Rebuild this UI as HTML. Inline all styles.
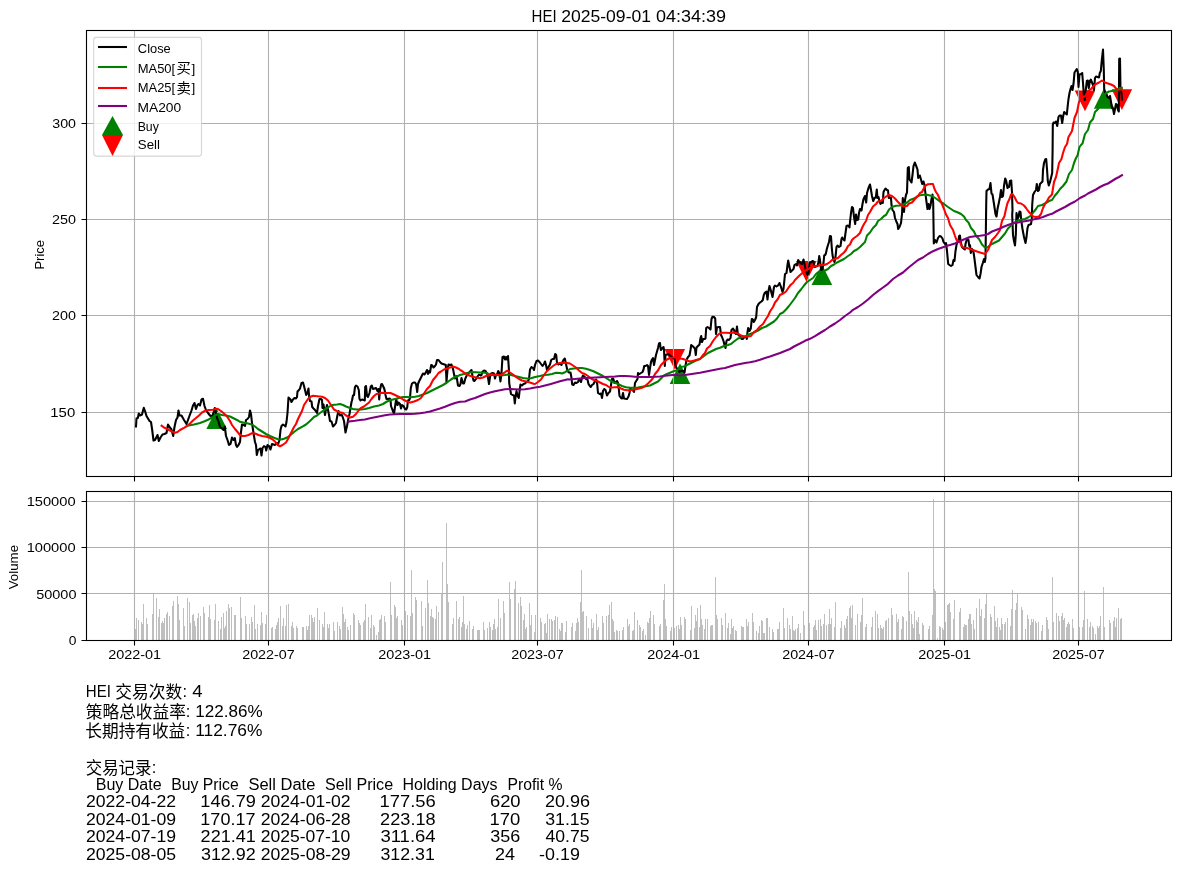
<!DOCTYPE html>
<html lang="zh-CN">
<head>
<meta charset="utf-8">
<title>HEI 2025-09-01 04:34:39</title>
<style>
html,body{margin:0;padding:0;background:#fff;}
body{width:1181px;height:872px;overflow:hidden;}
svg{display:block;}
text{white-space:pre;}
</style>
</head>
<body>
<svg width="1181" height="872" viewBox="0 0 1181 872" font-family='"Liberation Sans", "Noto Sans CJK SC", sans-serif' fill="#000">
<rect width="1181" height="872" fill="#fff"/>
<g id="price">
<clipPath id="c1"><rect x="86.5" y="30.5" width="1085.0" height="446.0"/></clipPath>
<g clip-path="url(#c1)">
<path d="M216.7 408.4L227.0 429.0L206.4 429.0Z" fill="#008000"/>
<path d="M680.0 363.3L690.3 383.9L669.7 383.9Z" fill="#008000"/>
<path d="M821.9 264.5L832.2 285.1L811.6 285.1Z" fill="#008000"/>
<path d="M1104.2 88.1L1114.5 108.7L1093.9 108.7Z" fill="#008000"/>
<path d="M674.8 369.7L685.1 349.1L664.5 349.1Z" fill="#ff0000"/>
<path d="M806.4 281.7L816.7 261.1L796.1 261.1Z" fill="#ff0000"/>
<path d="M1085.0 111.2L1095.3 90.6L1074.7 90.6Z" fill="#ff0000"/>
<path d="M1121.9 109.9L1132.2 89.3L1111.6 89.3Z" fill="#ff0000"/>
<path d="M134.5 30.5V476.5M268.5 30.5V476.5M404.5 30.5V476.5M537.5 30.5V476.5M673.5 30.5V476.5M808.5 30.5V476.5M944.5 30.5V476.5M1078.5 30.5V476.5M86.5 412.5H1171.5M86.5 315.5H1171.5M86.5 219.5H1171.5M86.5 123.5H1171.5" stroke="#b0b0b0" stroke-width="1.1" fill="none"/>
<path d="M136.0 426.5L136.5 418.5L137.8 418.0L138.8 413.5L140.0 415.5L142.0 414.5L143.8 407.8L145.0 411.0L146.5 416.0L148.0 418.5L149.5 421.0L151.0 422.0L152.2 430.0L153.5 440.5L155.0 440.0L157.5 435.0L158.8 441.0L160.5 437.5L162.5 434.5L164.5 434.0L166.5 433.0L168.0 424.5L169.5 427.0L171.5 429.5L173.2 436.0L174.5 427.0L176.0 420.0L177.5 417.5L178.5 410.5L179.5 415.5L181.5 415.5L184.0 420.0L186.5 424.0L188.0 420.0L190.0 414.5L191.5 410.5L193.0 405.5L194.5 403.0L196.0 409.0L197.5 405.0L198.5 404.0L200.0 405.5L201.5 399.5L203.0 398.8L204.5 406.0L206.0 410.0L208.0 413.0L210.0 415.5L212.0 416.5L213.5 413.0L214.8 408.0L216.0 413.0L217.0 418.0L218.5 421.5L220.0 427.0L221.5 428.0L223.5 430.0L224.8 426.5L226.0 436.0L227.5 440.0L229.0 445.0L230.5 444.0L232.0 437.5L233.5 440.0L234.8 438.0L236.0 445.0L237.0 446.8L238.5 445.0L240.0 442.0L241.0 432.0L242.0 424.5L243.5 425.0L245.0 426.0L246.0 420.0L247.5 419.0L249.0 417.0L250.0 410.5L251.0 414.0L252.0 423.0L253.5 433.0L255.0 442.0L256.0 445.0L256.8 455.0L258.0 450.0L259.5 449.0L260.5 448.5L261.5 455.5L262.5 448.0L264.0 446.0L265.5 447.0L266.2 450.5L267.5 445.0L269.0 446.0L270.5 449.5L272.0 444.0L273.5 444.5L275.0 445.0L276.5 443.0L278.0 444.5L279.5 440.0L280.5 430.0L281.5 426.0L283.0 424.5L284.5 425.5L285.5 426.5L286.5 422.0L287.5 413.0L288.5 397.5L289.5 398.5L290.5 399.5L291.5 402.0L293.0 399.5L294.5 398.0L296.0 398.5L297.0 397.0L297.5 391.5L299.0 390.0L300.0 388.5L301.5 383.0L303.0 382.5L304.0 386.0L305.0 390.0L306.2 395.0L307.2 393.5L308.5 388.5L309.2 397.0L310.0 401.0L311.5 401.5L312.2 407.0L313.5 408.5L315.0 410.0L317.0 413.0L318.0 406.0L319.5 399.0L321.0 399.0L322.0 400.0L322.5 408.0L323.5 404.5L325.0 415.0L326.0 409.0L327.0 405.0L328.0 410.0L329.0 415.0L330.0 421.0L331.5 421.5L333.0 426.5L334.5 425.0L336.0 423.0L337.5 415.0L338.5 411.0L340.0 415.5L341.5 414.5L342.5 416.5L344.0 421.0L345.5 432.5L347.0 426.0L348.5 418.0L349.5 414.0L350.5 408.0L351.5 402.0L352.0 400.5L353.0 395.5L354.0 395.0L355.0 387.0L356.0 385.5L357.5 386.5L358.8 390.0L359.5 399.0L360.5 400.5L362.0 399.5L363.5 400.0L364.8 400.5L365.2 387.0L366.0 386.0L367.0 396.0L368.0 397.0L369.5 393.0L370.8 386.5L371.8 385.5L373.0 389.0L374.5 388.5L376.0 388.0L377.5 391.0L378.5 389.0L379.2 399.5L380.0 390.0L381.2 384.5L382.0 384.0L383.5 387.0L384.5 389.5L385.5 395.0L386.5 399.0L388.0 399.0L389.5 398.5L390.5 399.5L391.0 406.0L392.5 410.0L394.0 413.5L395.0 407.0L396.2 399.0L397.5 405.0L398.5 402.5L400.0 404.0L401.0 408.5L402.0 405.0L403.5 406.0L405.0 409.0L406.2 409.5L407.2 407.5L408.0 400.5L409.2 400.0L410.0 398.0L410.8 388.0L412.0 383.5L413.5 382.5L415.0 382.5L416.2 384.5L417.2 392.0L418.0 384.0L419.0 381.5L420.5 378.5L422.0 375.5L423.0 373.5L424.5 374.5L426.0 372.0L427.0 370.0L428.0 374.0L429.0 371.0L430.0 372.5L431.2 365.0L432.2 365.5L433.5 367.5L435.0 366.0L436.0 364.5L437.0 360.0L438.5 360.0L440.0 362.0L441.5 363.5L443.0 364.0L444.5 364.5L445.8 365.0L446.5 382.0L447.5 370.0L448.5 364.5L450.0 365.0L451.5 364.5L453.0 369.0L454.0 374.0L455.0 378.5L456.5 376.0L458.0 385.5L459.5 386.0L460.5 384.0L461.5 378.0L463.0 383.5L464.0 383.5L465.5 378.0L467.0 375.0L468.5 373.5L470.0 371.5L471.5 370.0L472.5 376.0L473.5 380.5L474.5 381.0L476.0 379.0L477.5 376.5L479.0 374.5L480.5 375.5L481.5 375.0L482.5 371.5L484.0 370.5L485.5 371.0L487.0 373.5L488.0 377.5L489.0 384.0L490.0 377.0L491.2 373.5L492.5 373.0L494.0 373.5L495.0 378.5L496.0 375.0L497.2 374.0L498.2 371.0L499.2 372.5L500.5 381.5L501.5 373.0L502.5 357.0L504.0 356.5L505.0 359.5L506.0 357.0L507.0 359.5L508.0 356.0L508.8 368.0L509.2 383.0L510.0 388.0L511.0 394.0L512.5 395.0L514.0 395.5L514.8 403.5L515.5 397.0L516.5 391.0L517.5 396.0L518.8 398.0L519.8 389.0L520.5 384.5L522.0 385.5L523.5 384.0L525.0 383.5L526.5 382.0L528.0 381.0L529.0 379.0L530.0 369.5L531.5 367.0L533.0 368.0L534.0 370.0L535.0 365.0L536.5 361.0L538.0 360.5L539.5 362.0L541.0 364.0L542.5 366.0L544.0 364.0L545.0 361.5L546.0 365.0L547.0 370.0L548.5 367.0L550.0 364.5L551.2 360.0L552.5 359.0L554.0 359.0L555.2 354.0L556.2 355.0L557.0 363.0L558.5 364.5L560.0 363.5L561.5 365.0L562.5 362.0L563.5 360.0L564.8 358.5L566.0 364.0L567.5 371.0L569.0 372.5L570.5 372.5L571.5 378.0L572.2 384.5L573.5 385.0L575.0 382.5L576.5 383.0L578.0 382.0L579.0 379.5L580.0 380.0L581.0 382.0L582.0 378.0L583.0 375.5L584.5 376.5L586.0 379.0L587.5 379.5L588.5 384.0L589.5 385.5L590.8 387.0L592.0 385.0L593.5 384.0L595.0 381.0L596.2 379.5L597.2 384.0L598.0 393.0L599.5 394.0L601.0 393.5L602.0 398.0L603.0 391.0L604.2 389.0L605.5 390.0L607.0 395.5L608.5 393.0L610.0 391.5L611.0 385.0L612.0 379.0L613.2 378.5L614.5 383.0L615.8 382.0L617.0 381.0L618.0 383.0L618.8 389.0L619.5 396.0L621.0 398.0L622.0 398.5L623.0 393.0L624.0 398.5L625.5 398.8L627.0 399.0L628.5 396.5L629.5 393.0L630.0 389.0L631.2 389.0L632.5 390.0L634.0 392.0L635.0 383.0L636.5 380.5L637.5 379.0L638.0 373.0L639.5 374.0L641.0 373.0L642.5 372.0L643.5 369.5L644.2 366.0L645.5 366.0L647.0 365.0L648.0 366.0L649.0 375.0L650.0 368.0L651.0 362.0L652.0 359.5L653.0 358.0L654.0 365.0L655.0 360.0L656.0 355.0L657.0 351.5L658.0 348.0L659.0 343.5L660.0 343.0L660.8 350.0L662.0 348.5L663.5 347.0L664.0 350.0L664.8 366.0L665.5 355.0L667.0 354.5L668.5 354.0L670.0 355.5L671.5 356.5L673.0 358.0L674.5 359.0L675.5 365.0L676.5 368.0L678.0 369.0L679.5 372.0L681.0 371.0L683.0 371.0L684.5 372.5L685.5 366.0L686.5 360.0L688.0 357.0L689.5 355.5L690.5 350.0L691.2 345.0L692.5 346.0L694.0 347.5L695.0 349.0L695.8 355.0L696.5 347.5L698.0 346.0L699.5 344.5L700.5 338.0L701.2 336.0L702.0 342.0L703.2 339.0L704.5 339.0L705.5 338.5L706.2 328.0L707.5 327.0L709.0 328.0L710.5 329.5L711.5 319.0L712.5 316.8L714.0 317.0L715.2 318.5L716.0 334.0L717.0 327.5L718.5 327.0L720.0 327.0L721.0 335.0L722.0 337.0L723.5 341.0L724.5 345.0L725.5 348.0L726.5 341.0L727.5 339.5L729.0 340.0L730.5 338.0L731.5 330.0L733.0 328.5L734.0 330.0L735.0 333.0L736.0 334.0L737.0 326.5L737.8 334.0L739.0 335.5L740.5 336.0L741.5 339.0L743.0 339.0L744.5 337.0L746.0 336.5L746.8 339.0L747.5 332.0L748.2 328.0L749.5 331.0L750.8 328.5L751.8 319.0L752.8 319.5L753.8 322.0L755.0 320.0L756.2 317.0L757.0 307.0L758.5 304.0L760.0 302.5L761.5 301.5L762.8 300.0L763.8 295.0L765.0 292.5L766.5 291.5L767.5 299.5L768.5 291.0L769.5 286.0L771.0 291.0L772.5 297.0L774.0 287.0L775.0 285.5L776.5 286.5L778.0 285.5L779.5 283.0L781.0 287.0L782.5 292.0L783.5 289.0L784.5 279.0L785.0 274.0L786.5 273.0L787.5 265.0L788.2 260.5L789.5 267.0L790.5 272.0L792.0 270.5L793.5 269.0L794.5 265.0L796.0 264.0L797.0 265.5L798.2 260.0L799.5 262.0L801.0 263.5L802.0 264.0L803.5 259.5L804.5 264.0L806.0 271.0L807.5 275.0L808.5 273.0L809.5 263.0L811.0 262.5L812.5 261.0L813.5 261.5L814.5 267.0L816.0 266.5L817.5 266.0L818.5 262.0L819.2 256.0L820.0 260.0L820.8 267.0L821.5 272.0L822.5 269.0L823.5 263.0L824.2 255.5L825.2 255.0L826.0 253.0L826.8 249.0L828.0 245.0L829.0 242.0L830.0 236.0L831.0 236.5L831.8 248.0L832.5 255.0L833.5 260.0L834.5 262.0L835.5 257.0L836.5 247.0L837.5 245.5L839.0 247.0L840.5 246.0L841.5 239.0L842.2 237.5L843.5 239.5L844.5 240.5L845.5 233.0L846.5 226.0L848.0 225.5L849.5 227.5L850.0 222.0L851.0 213.0L852.0 207.0L853.0 208.0L854.0 217.0L855.2 224.0L856.0 214.5L857.0 220.0L858.2 219.5L859.0 213.0L860.0 209.0L861.5 210.5L862.5 204.0L863.5 199.0L865.0 196.0L866.2 202.5L867.0 193.0L868.5 188.0L870.0 184.5L871.0 190.0L872.0 196.0L873.2 201.0L874.5 198.0L875.8 197.5L876.8 189.5L877.5 198.0L878.5 197.0L879.5 201.0L880.5 204.0L881.8 202.0L882.8 203.0L883.5 192.0L884.5 190.0L885.5 188.5L887.0 190.0L888.0 190.5L888.8 198.0L890.0 197.5L891.0 198.0L891.5 205.0L892.5 210.0L894.0 212.0L895.0 218.0L896.5 222.0L897.5 224.0L898.2 229.0L899.5 227.0L901.0 223.0L902.0 214.0L902.8 198.0L904.0 212.0L905.0 200.0L906.0 195.0L907.0 192.5L907.8 168.0L908.8 167.0L909.5 179.5L910.5 181.0L911.5 182.5L912.5 175.0L913.5 166.0L914.8 162.5L916.0 165.5L917.5 169.5L918.2 178.0L919.8 175.5L921.0 179.5L922.2 184.0L923.5 181.5L924.5 185.0L925.5 194.0L926.5 202.0L927.5 209.0L928.5 204.0L929.5 209.0L930.5 205.5L931.5 199.0L932.5 194.5L933.2 203.0L933.8 243.5L935.0 240.0L936.5 242.5L938.0 238.0L939.5 236.0L941.0 236.5L942.5 238.5L943.5 242.0L945.0 244.0L946.0 243.0L947.0 251.0L948.2 264.0L949.5 265.0L951.0 266.0L952.5 265.0L953.5 260.0L954.5 261.0L955.5 251.0L956.5 245.0L957.5 242.0L958.5 240.0L959.2 236.0L960.0 235.5L960.5 241.0L962.0 247.0L963.5 248.5L964.8 249.5L965.5 244.0L966.5 240.5L967.5 239.0L968.5 240.0L969.2 246.0L970.0 245.0L970.8 253.0L972.0 249.0L973.5 252.0L974.5 259.0L975.5 267.0L976.5 275.0L978.0 277.0L979.5 278.5L980.5 274.0L981.5 267.0L982.8 263.0L984.0 259.0L984.8 262.0L985.5 258.0L985.8 235.0L986.2 205.0L986.5 191.0L988.0 189.5L989.5 189.0L990.5 183.0L991.5 193.5L992.5 194.5L994.0 204.0L995.5 214.0L996.5 216.5L997.5 209.0L999.0 202.0L1000.0 197.0L1001.0 190.0L1002.0 197.0L1003.0 196.0L1004.0 186.0L1005.2 178.5L1006.2 181.0L1007.5 188.0L1009.0 187.0L1010.0 181.0L1011.2 180.5L1012.0 192.0L1012.5 210.0L1012.2 215.0L1013.0 235.0L1014.0 241.0L1015.0 245.5L1015.8 235.0L1016.5 213.0L1017.5 219.0L1018.5 217.0L1019.5 211.5L1020.5 212.0L1021.2 220.0L1022.5 229.0L1024.0 237.0L1025.5 243.0L1026.5 237.0L1027.5 228.0L1028.5 225.0L1030.0 224.5L1031.0 224.0L1031.8 219.0L1032.2 205.0L1033.0 195.0L1034.5 192.0L1036.0 190.0L1036.8 184.0L1038.0 191.0L1039.0 190.0L1040.0 184.0L1041.5 182.5L1042.5 181.5L1043.0 170.0L1044.0 163.0L1045.2 159.5L1046.2 159.0L1047.0 169.0L1047.8 181.0L1048.8 185.5L1050.0 182.0L1051.2 177.0L1052.2 173.0L1052.6 150.0L1052.8 125.0L1053.5 122.5L1054.5 123.0L1056.0 121.5L1057.2 126.0L1058.5 117.0L1059.5 115.5L1061.0 115.5L1062.2 123.0L1063.2 116.0L1064.2 112.0L1065.5 113.5L1066.8 114.5L1067.8 105.0L1068.5 99.0L1069.5 93.0L1070.5 89.0L1071.5 86.0L1072.5 90.0L1073.5 84.0L1074.5 72.5L1075.5 71.0L1076.8 69.0L1077.8 72.0L1078.5 87.0L1079.5 74.5L1081.0 74.0L1082.2 73.0L1083.0 83.0L1083.8 94.0L1084.8 100.0L1085.8 90.0L1086.8 81.0L1087.8 80.5L1088.8 88.0L1089.8 81.0L1090.8 79.5L1092.0 82.5L1093.0 85.0L1094.0 90.0L1095.0 78.0L1096.0 76.5L1097.5 77.0L1099.0 77.5L1099.8 73.0L1100.8 71.0L1101.8 60.0L1103.0 49.5L1103.8 70.0L1104.2 89.0L1105.0 92.0L1106.0 93.0L1107.5 97.0L1108.8 98.0L1110.0 96.0L1111.0 102.0L1112.0 108.0L1113.0 108.5L1114.0 114.0L1115.0 109.0L1116.0 104.0L1117.0 105.0L1118.0 110.0L1118.8 111.5L1119.2 59.0L1120.0 58.5L1120.5 90.0L1121.5 93.0L1121.9 99.6" stroke="#000000" stroke-width="2.08" fill="none" stroke-linejoin="round" stroke-linecap="square"/>
<path d="M188.5 425.5L194.0 424.5L200.0 423.0L204.0 421.5L208.0 419.8L212.0 417.5L215.0 415.5L218.0 414.0L222.0 415.0L226.0 415.5L230.0 416.5L234.0 418.5L238.0 420.5L240.0 421.8L244.0 422.8L248.0 423.5L252.0 424.5L255.0 426.5L258.0 429.0L262.0 431.5L266.0 434.0L270.0 436.0L274.0 437.8L278.0 439.2L281.0 439.5L284.0 438.8L287.0 437.5L290.0 435.5L294.0 432.0L298.0 429.0L302.0 426.8L306.0 424.5L310.0 421.0L314.0 417.0L317.0 415.5L320.0 413.0L324.0 410.0L328.0 407.5L331.0 405.5L334.0 404.8L337.0 404.5L340.0 404.0L343.0 405.0L346.0 406.5L350.0 408.0L353.0 409.0L357.0 409.5L361.0 409.5L365.0 409.0L369.0 408.0L374.0 406.5L379.0 405.5L383.0 404.0L387.0 401.5L391.0 400.0L395.0 399.0L399.0 398.0L403.0 397.0L407.0 397.0L411.0 397.2L415.0 396.8L419.0 396.0L423.0 394.5L427.0 393.0L431.0 391.0L435.0 389.0L439.0 387.0L443.0 385.0L447.0 382.5L451.0 379.5L455.0 377.0L459.0 375.5L460.0 375.0L464.0 374.0L468.0 372.8L472.0 372.0L476.0 372.2L480.0 372.5L485.0 372.8L489.0 374.0L493.0 374.5L497.0 375.0L501.0 375.5L505.0 375.0L508.0 374.5L511.0 375.0L515.0 376.0L519.0 377.0L523.0 378.0L527.0 378.5L531.0 378.2L535.0 377.0L540.0 376.0L544.0 375.0L548.0 374.8L552.0 374.0L556.0 372.8L560.0 373.0L562.0 373.5L565.0 372.2L568.0 370.5L570.0 369.0L574.0 368.5L578.0 368.0L582.0 368.0L586.0 368.7L590.0 370.0L594.0 371.5L598.0 373.5L602.0 375.5L606.0 377.8L610.0 380.5L614.0 382.5L618.0 384.0L622.0 386.0L626.0 387.2L630.0 387.8L634.0 387.8L638.0 387.5L642.0 386.8L646.0 386.2L650.0 385.5L654.0 383.5L658.0 381.5L661.0 378.5L664.0 375.5L667.0 374.0L670.0 372.8L673.0 371.5L676.0 370.5L679.0 369.0L680.0 367.0L684.0 366.5L688.0 364.5L692.0 362.5L696.0 360.5L700.0 359.0L704.0 356.0L708.0 353.0L712.0 351.0L716.0 349.0L720.0 347.8L724.0 346.0L728.0 345.0L731.0 344.0L734.0 341.5L738.0 338.5L742.0 337.0L746.0 336.0L750.0 334.0L754.0 332.5L758.0 330.5L762.0 328.0L766.0 326.5L770.0 324.0L774.0 321.5L777.0 318.5L780.0 314.0L783.0 312.5L786.0 309.5L789.0 306.0L792.0 302.0L795.0 298.0L798.0 293.0L801.0 289.5L804.0 285.5L807.0 282.0L810.0 280.0L813.0 278.0L816.0 274.0L819.0 271.5L822.0 272.0L825.0 270.5L828.0 269.0L831.0 266.0L834.0 264.5L837.0 262.5L840.0 261.0L844.0 259.0L848.0 256.0L851.0 254.0L854.0 251.0L857.0 249.5L860.0 247.0L863.0 244.0L865.0 242.0L867.0 235.5L870.0 232.5L873.0 228.0L876.0 225.0L878.0 221.0L881.0 219.0L884.0 216.0L886.0 215.0L889.0 209.5L892.0 207.0L896.0 205.8L900.0 205.5L904.0 204.0L907.0 202.5L910.0 200.0L914.0 198.5L917.0 196.5L920.0 195.2L924.0 194.8L927.0 194.8L930.0 195.5L933.0 196.5L936.0 198.5L940.0 201.5L944.0 204.0L948.0 207.0L951.0 209.0L954.0 211.0L958.0 212.5L961.0 214.0L964.0 216.5L966.0 220.0L968.5 222.5L971.0 228.0L974.0 231.5L976.0 236.0L979.0 239.0L982.0 244.5L985.0 247.5L988.0 247.0L991.0 244.5L995.0 242.5L999.0 240.5L1002.0 237.0L1005.0 233.5L1008.0 228.5L1011.0 225.5L1014.0 223.0L1018.0 220.5L1022.0 219.5L1025.0 219.0L1028.0 217.5L1031.0 215.5L1034.0 211.5L1036.0 209.0L1038.0 206.0L1042.0 205.0L1045.0 203.5L1049.0 201.0L1052.0 200.0L1055.0 195.5L1058.0 192.0L1060.0 189.0L1063.0 186.0L1066.5 181.5L1069.0 174.0L1072.0 170.0L1074.0 163.0L1076.0 158.0L1077.5 155.5L1079.5 147.0L1081.0 145.0L1082.5 143.5L1085.0 134.0L1088.0 130.0L1090.0 122.5L1093.0 119.0L1095.0 112.0L1098.0 109.0L1101.0 102.0L1104.0 96.0L1106.0 93.0L1109.0 91.5L1112.0 91.0L1115.0 90.5L1118.0 89.0L1120.0 88.0L1121.9 87.8" stroke="#008000" stroke-width="2.08" fill="none" stroke-linejoin="round" stroke-linecap="square"/>
<path d="M161.6 425.7L164.0 427.5L168.0 429.5L172.0 431.5L175.0 432.7L177.5 432.0L180.0 430.0L184.0 427.8L187.0 426.0L190.0 423.5L193.0 420.5L196.0 418.0L199.0 415.5L202.0 412.5L205.0 410.8L209.0 410.0L213.0 409.7L216.0 408.8L218.0 409.0L221.0 411.0L224.0 413.5L227.0 416.5L230.0 421.0L232.0 425.0L235.0 429.0L238.0 432.5L240.0 435.0L242.0 436.0L245.0 436.0L248.5 435.0L252.0 433.2L255.0 433.5L258.5 435.0L262.0 436.0L265.5 436.5L269.0 437.5L272.0 439.0L275.0 441.5L277.5 445.0L280.0 446.2L282.5 445.0L286.0 442.5L288.0 439.0L290.0 435.0L292.0 431.0L294.0 427.0L296.0 424.0L298.0 419.0L300.0 415.0L302.0 411.0L304.0 405.0L306.0 402.0L308.0 399.0L310.0 397.0L313.0 395.8L317.0 396.2L322.0 396.8L325.0 398.0L328.0 400.5L331.0 405.0L334.0 409.5L337.0 411.2L340.0 412.2L343.0 413.0L346.0 415.5L349.0 417.0L350.0 417.5L353.0 416.8L356.0 414.0L359.0 410.0L361.0 408.0L364.0 406.5L366.5 404.5L369.0 402.5L371.5 399.0L374.0 396.0L376.5 394.0L379.0 393.5L382.0 392.8L386.0 393.0L390.5 393.0L394.0 394.5L397.0 396.0L400.0 397.5L403.0 399.5L406.0 401.0L408.5 402.0L410.5 402.5L414.0 401.5L418.0 400.0L421.0 398.0L424.0 393.5L427.0 389.0L430.0 386.0L433.0 380.0L436.0 376.5L438.5 373.0L441.0 371.5L444.0 369.5L447.0 368.5L450.0 367.5L453.0 366.5L456.0 367.5L459.0 369.0L460.0 369.8L462.0 371.0L464.5 373.0L468.0 375.0L472.0 376.5L476.0 377.5L480.0 378.2L483.0 377.5L486.0 376.0L489.0 375.0L493.0 375.0L497.0 375.0L501.0 374.8L504.0 373.0L506.5 371.0L508.0 370.8L510.0 372.5L513.0 374.5L516.0 377.0L519.0 379.0L522.0 380.5L526.0 381.5L530.0 382.5L533.5 383.8L535.0 384.0L538.0 382.0L541.0 379.5L544.0 375.0L547.0 371.0L550.0 368.5L553.0 366.0L556.0 364.0L560.0 363.0L564.0 362.8L567.0 363.0L570.0 363.5L573.0 365.5L576.0 367.5L579.0 370.5L582.0 373.0L585.0 374.0L588.0 376.0L591.0 378.5L594.0 380.0L597.0 381.0L600.0 382.5L603.0 384.0L606.0 385.0L609.0 387.0L612.0 387.5L615.0 387.2L618.0 387.0L621.0 388.5L624.0 389.8L627.0 390.2L630.0 390.2L633.0 389.8L636.0 389.2L639.0 388.5L642.0 387.8L645.0 386.0L648.0 383.5L651.0 380.5L653.0 378.0L655.0 374.0L658.0 370.5L661.0 365.0L664.0 362.0L667.0 359.5L670.0 358.0L673.0 357.5L676.0 357.5L679.0 358.0L680.0 358.5L683.0 359.0L686.0 360.0L689.0 361.2L692.0 361.2L696.0 360.0L700.0 359.0L703.0 355.0L705.0 353.0L707.0 348.5L710.0 346.0L713.0 341.0L716.0 337.0L719.0 334.0L722.0 332.8L726.0 332.8L730.0 333.0L734.0 332.5L738.0 333.5L741.0 335.5L744.0 336.5L747.0 336.8L751.0 336.0L754.0 332.0L757.0 330.0L760.0 326.5L763.0 324.0L766.0 319.0L768.0 316.0L770.0 311.5L773.0 307.0L775.0 302.5L777.5 299.5L780.0 295.0L784.0 293.0L786.0 291.5L789.0 287.0L791.0 284.5L793.0 283.0L795.0 280.0L797.0 278.0L800.0 275.0L803.0 272.5L806.0 270.0L809.0 268.5L812.0 267.0L815.0 266.0L818.0 265.8L821.0 265.0L824.0 265.0L827.0 264.0L830.0 262.0L832.0 260.0L835.0 259.0L838.0 258.0L841.0 255.0L844.0 252.5L846.0 250.0L848.0 246.0L850.0 244.5L852.0 240.0L854.0 238.0L857.0 236.0L860.0 233.0L862.0 228.0L864.0 224.0L866.0 221.0L868.0 215.0L870.0 212.0L873.0 206.5L876.0 204.0L878.0 201.5L881.0 201.0L884.0 198.0L887.0 196.0L889.0 195.0L892.0 196.0L895.0 198.5L898.0 202.0L901.0 205.0L904.0 206.5L907.0 206.0L909.0 203.5L912.0 202.5L915.0 199.0L918.0 196.0L920.0 193.0L922.0 192.0L925.0 186.0L928.0 184.2L931.0 184.0L933.0 184.0L934.5 189.0L936.0 192.0L938.0 195.0L940.0 200.0L942.0 204.0L944.0 209.0L946.0 214.5L948.0 218.0L950.0 225.0L953.0 230.0L955.0 236.0L956.5 240.0L958.5 241.0L960.0 242.0L961.5 246.0L963.5 247.5L967.0 248.0L970.0 249.0L973.0 250.0L977.0 251.5L981.0 252.8L985.0 254.0L988.0 250.0L990.0 245.0L992.0 240.0L995.0 237.0L998.0 233.0L1000.0 230.0L1002.0 221.0L1004.5 216.0L1006.0 209.0L1007.5 203.0L1009.5 199.0L1011.0 194.5L1012.5 194.0L1014.5 197.0L1016.5 201.0L1018.0 203.0L1021.0 203.5L1024.0 205.5L1026.0 208.0L1028.5 211.5L1031.0 214.0L1033.0 216.5L1036.0 217.0L1039.0 216.5L1041.0 214.0L1043.0 208.0L1045.0 204.0L1047.0 201.0L1049.0 197.5L1052.0 194.5L1054.0 182.0L1056.0 177.0L1058.0 168.0L1059.0 163.0L1061.5 159.0L1063.0 153.0L1065.0 147.0L1067.0 144.0L1068.5 137.0L1072.0 131.0L1074.5 118.0L1077.0 112.0L1079.0 102.0L1081.0 99.0L1083.0 97.0L1085.5 96.0L1088.0 91.0L1091.0 89.0L1094.0 85.5L1096.0 84.0L1099.0 82.5L1102.0 80.5L1105.0 82.5L1108.0 83.5L1111.0 84.5L1114.0 86.0L1116.0 88.5L1118.0 89.8L1121.9 89.5" stroke="#ff0000" stroke-width="2.08" fill="none" stroke-linejoin="round" stroke-linecap="square"/>
<path d="M348.5 421.5L353.0 421.0L355.0 420.8L360.0 420.0L365.0 419.5L370.0 418.3L375.0 417.2L380.0 416.2L385.0 415.3L390.0 414.5L395.0 414.3L400.0 414.0L405.0 414.0L410.0 414.0L415.0 413.8L420.0 413.3L425.0 412.5L430.0 411.5L435.0 410.0L440.0 408.5L445.0 406.8L450.0 404.8L455.0 403.0L460.0 401.8L465.0 401.5L470.0 399.5L475.0 398.0L480.0 396.0L485.0 394.0L490.0 392.5L495.0 391.2L500.0 390.2L505.0 389.3L510.0 389.0L515.0 389.3L520.0 389.5L525.0 389.3L530.0 388.5L535.0 387.5L540.0 386.8L545.0 385.5L550.0 384.2L555.0 382.8L560.0 381.3L565.0 380.0L568.0 379.3L570.0 379.5L575.0 379.0L580.0 378.5L585.0 378.0L590.0 377.8L595.0 377.5L600.0 377.3L605.0 377.0L610.0 376.8L615.0 376.5L620.0 376.0L625.0 376.0L630.0 376.3L635.0 376.7L640.0 377.0L645.0 377.0L650.0 377.0L655.0 376.8L660.0 376.5L665.0 375.8L670.0 375.2L675.0 374.8L680.0 375.5L685.0 375.0L690.0 374.2L695.0 373.5L700.0 372.8L705.0 371.8L710.0 370.8L715.0 369.8L720.0 368.8L725.0 368.0L730.0 366.5L735.0 365.0L740.0 364.0L745.0 363.0L750.0 362.2L755.0 361.2L760.0 359.8L765.0 358.0L770.0 356.5L775.0 354.8L780.0 353.0L785.0 351.0L790.0 349.0L794.0 346.5L798.0 344.5L800.0 343.5L805.0 340.8L810.0 338.8L815.0 336.2L820.0 333.0L825.0 330.0L830.0 326.5L835.0 323.5L840.0 320.0L845.0 316.0L850.0 312.5L853.0 309.8L858.0 307.0L863.0 303.5L868.0 299.5L873.0 295.0L878.0 291.2L883.0 287.5L888.0 283.8L893.0 279.0L898.0 275.5L903.0 272.5L908.0 268.0L913.0 264.0L918.0 260.0L923.0 257.5L928.0 254.0L933.0 251.2L938.0 249.0L943.0 247.2L948.0 245.5L950.0 245.0L955.0 243.5L960.0 241.0L965.0 239.0L970.0 237.0L975.0 236.2L980.0 235.8L985.0 235.0L988.0 234.0L992.0 231.5L996.0 230.0L1000.0 228.5L1003.0 227.0L1008.0 225.0L1013.0 223.2L1018.0 222.5L1023.0 221.5L1028.0 220.8L1033.0 219.5L1038.0 218.5L1043.0 217.0L1048.0 215.0L1052.0 213.8L1056.0 211.5L1060.0 209.5L1065.0 207.0L1070.0 204.0L1075.0 201.5L1080.0 198.0L1085.0 195.5L1088.0 193.5L1092.0 191.5L1096.0 189.5L1100.0 187.0L1104.0 185.0L1108.0 183.5L1112.0 181.0L1116.0 178.5L1119.0 177.0L1122.0 175.2" stroke="#800080" stroke-width="2.08" fill="none" stroke-linejoin="round" stroke-linecap="square"/>
</g>
<path d="M134.5 476.5v5M268.5 476.5v5M404.5 476.5v5M537.5 476.5v5M673.5 476.5v5M808.5 476.5v5M944.5 476.5v5M1078.5 476.5v5M86.5 412.5h-5M86.5 315.5h-5M86.5 219.5h-5M86.5 123.5h-5" stroke="#000" stroke-width="1.1" fill="none"/>
<rect x="86.5" y="30.5" width="1085.0" height="446.0" fill="none" stroke="#000" stroke-width="1.1"/>
<text y="417" font-size="12.9"><tspan x="50.34" textLength="24.85" lengthAdjust="spacingAndGlyphs">150</tspan></text>
<text y="320" font-size="12.9"><tspan x="52.14" textLength="23.93" lengthAdjust="spacingAndGlyphs">200</tspan></text>
<text y="224" font-size="12.9"><tspan x="52.14" textLength="23.93" lengthAdjust="spacingAndGlyphs">250</tspan></text>
<text y="128" font-size="12.9"><tspan x="52.25" textLength="23.72" lengthAdjust="spacingAndGlyphs">300</tspan></text>
<text y="0" font-size="12.9" transform="translate(44 268.6) rotate(-90)"><tspan x="-1.01" textLength="29.64" lengthAdjust="spacingAndGlyphs">Price</tspan></text>
<text y="22" font-size="15.6"><tspan x="531.60" y="22" textLength="25.05" lengthAdjust="spacingAndGlyphs">HEI</tspan><tspan x="561.15" y="22" textLength="89.93" lengthAdjust="spacingAndGlyphs">2025-09-01</tspan><tspan x="655.92" y="22" textLength="70.09" lengthAdjust="spacingAndGlyphs">04:34:39</tspan></text>
<g id="legend">
<rect x="93.7" y="37.4" width="107.8" height="118.7" rx="2.8" fill="#fff" fill-opacity="0.8" stroke="#ccc" stroke-opacity="0.8" stroke-width="1.1"/>
<path d="M98 47H127" stroke="#000" stroke-width="2.08"/>
<path d="M98 67H127" stroke="#008000" stroke-width="2.08"/>
<path d="M98 88H127" stroke="#ff0000" stroke-width="2.08"/>
<path d="M98 106H127" stroke="#800080" stroke-width="2.08"/>
<path d="M112.5 116L123 135.1L102 135.1Z" fill="#008000"/><path d="M102 135.1L123 135.1L112.5 156.1Z" fill="#ff0000"/>
<text y="52.7" font-size="12.9"><tspan x="137.85" textLength="32.92" lengthAdjust="spacingAndGlyphs">Close</tspan></text>
<text y="72.8" font-size="12.9"><tspan x="137.69" y="72.8" textLength="37.52" lengthAdjust="spacingAndGlyphs">MA50[</tspan><tspan x="176.62" y="73.1" font-size="13.9" textLength="14.42" lengthAdjust="spacingAndGlyphs">买</tspan><tspan x="191.54" y="72.8" textLength="3.81" lengthAdjust="spacingAndGlyphs">]</tspan></text>
<text y="92.4" font-size="12.9"><tspan x="137.69" y="92.4" textLength="37.52" lengthAdjust="spacingAndGlyphs">MA25[</tspan><tspan x="176.62" y="92.7" font-size="13.9" textLength="14.42" lengthAdjust="spacingAndGlyphs">卖</tspan><tspan x="191.54" y="92.4" textLength="3.81" lengthAdjust="spacingAndGlyphs">]</tspan></text>
<text y="112" font-size="12.9"><tspan x="137.53" textLength="43.65" lengthAdjust="spacingAndGlyphs">MA200</tspan></text>
<text y="130.8" font-size="12.9"><tspan x="137.64" textLength="21.23" lengthAdjust="spacingAndGlyphs">Buy</tspan></text>
<text y="149" font-size="12.9"><tspan x="137.83" textLength="22.14" lengthAdjust="spacingAndGlyphs">Sell</tspan></text>
</g>
</g>
<g id="volume">
<path d="M135 640.5V629h1V640.5zM136 640.5V618h1V640.5zM138 640.5V620h1V640.5zM141 640.5V622h1V640.5zM142 640.5V624h1V640.5zM143 640.5V604h1V640.5zM146 640.5V618h1V640.5zM147 640.5V624h1V640.5zM152 640.5V614h1V640.5zM153 640.5V594h1V640.5zM156 640.5V598h1V640.5zM158 640.5V617h1V640.5zM159 640.5V609h1V640.5zM161 640.5V623h1V640.5zM162 640.5V621h1V640.5zM163 640.5V623h1V640.5zM164 640.5V618h1V640.5zM166 640.5V614h1V640.5zM167 640.5V612h1V640.5zM169 640.5V616h1V640.5zM172 640.5V606h1V640.5zM173 640.5V601h1V640.5zM177 640.5V596h1V640.5zM178 640.5V604h1V640.5zM179 640.5V620h1V640.5zM183 640.5V608h1V640.5zM184 640.5V626h1V640.5zM187 640.5V598h1V640.5zM189 640.5V602h1V640.5zM190 640.5V623h1V640.5zM192 640.5V615h1V640.5zM193 640.5V614h1V640.5zM194 640.5V621h1V640.5zM195 640.5V626h1V640.5zM197 640.5V618h1V640.5zM198 640.5V613h1V640.5zM200 640.5V616h1V640.5zM203 640.5V607h1V640.5zM204 640.5V613h1V640.5zM208 640.5V617h1V640.5zM209 640.5V605h1V640.5zM210 640.5V619h1V640.5zM214 640.5V620h1V640.5zM215 640.5V604h1V640.5zM218 640.5V621h1V640.5zM220 640.5V629h1V640.5zM221 640.5V617h1V640.5zM223 640.5V613h1V640.5zM224 640.5V628h1V640.5zM225 640.5V626h1V640.5zM226 640.5V611h1V640.5zM228 640.5V604h1V640.5zM229 640.5V608h1V640.5zM231 640.5V607h1V640.5zM234 640.5V615h1V640.5zM235 640.5V615h1V640.5zM240 640.5V597h1V640.5zM241 640.5V618h1V640.5zM245 640.5V616h1V640.5zM246 640.5V624h1V640.5zM249 640.5V624h1V640.5zM251 640.5V617h1V640.5zM252 640.5V622h1V640.5zM254 640.5V605h1V640.5zM255 640.5V629h1V640.5zM257 640.5V624h1V640.5zM260 640.5V625h1V640.5zM261 640.5V612h1V640.5zM262 640.5V623h1V640.5zM265 640.5V624h1V640.5zM266 640.5V615h1V640.5zM271 640.5V628h1V640.5zM272 640.5V627h1V640.5zM275 640.5V629h1V640.5zM276 640.5V625h1V640.5zM277 640.5V622h1V640.5zM278 640.5V618h1V640.5zM280 640.5V606h1V640.5zM282 640.5V626h1V640.5zM283 640.5V618h1V640.5zM285 640.5V626h1V640.5zM286 640.5V605h1V640.5zM288 640.5V604h1V640.5zM291 640.5V626h1V640.5zM292 640.5V622h1V640.5zM293 640.5V628h1V640.5zM296 640.5V626h1V640.5zM297 640.5V628h1V640.5zM302 640.5V627h1V640.5zM303 640.5V627h1V640.5zM306 640.5V626h1V640.5zM307 640.5V630h1V640.5zM308 640.5V626h1V640.5zM309 640.5V615h1V640.5zM311 640.5V615h1V640.5zM312 640.5V618h1V640.5zM313 640.5V622h1V640.5zM314 640.5V617h1V640.5zM317 640.5V608h1V640.5zM319 640.5V620h1V640.5zM322 640.5V624h1V640.5zM323 640.5V627h1V640.5zM324 640.5V612h1V640.5zM327 640.5V624h1V640.5zM328 640.5V628h1V640.5zM329 640.5V624h1V640.5zM333 640.5V622h1V640.5zM334 640.5V631h1V640.5zM337 640.5V622h1V640.5zM339 640.5V626h1V640.5zM340 640.5V629h1V640.5zM342 640.5V607h1V640.5zM343 640.5V614h1V640.5zM344 640.5V622h1V640.5zM345 640.5V619h1V640.5zM347 640.5V627h1V640.5zM348 640.5V630h1V640.5zM350 640.5V625h1V640.5zM353 640.5V613h1V640.5zM354 640.5V615h1V640.5zM358 640.5V620h1V640.5zM359 640.5V623h1V640.5zM360 640.5V625h1V640.5zM363 640.5V622h1V640.5zM364 640.5V620h1V640.5zM365 640.5V604h1V640.5zM368 640.5V617h1V640.5zM370 640.5V628h1V640.5zM371 640.5V615h1V640.5zM373 640.5V625h1V640.5zM374 640.5V627h1V640.5zM376 640.5V635h1V640.5zM378 640.5V632h1V640.5zM379 640.5V620h1V640.5zM380 640.5V619h1V640.5zM381 640.5V615h1V640.5zM384 640.5V616h1V640.5zM385 640.5V622h1V640.5zM390 640.5V582h1V640.5zM391 640.5V615h1V640.5zM394 640.5V605h1V640.5zM395 640.5V607h1V640.5zM396 640.5V618h1V640.5zM397 640.5V616h1V640.5zM401 640.5V620h1V640.5zM402 640.5V625h1V640.5zM405 640.5V611h1V640.5zM407 640.5V615h1V640.5zM410 640.5V616h1V640.5zM411 640.5V570h1V640.5zM412 640.5V613h1V640.5zM415 640.5V597h1V640.5zM416 640.5V600h1V640.5zM421 640.5V601h1V640.5zM422 640.5V626h1V640.5zM425 640.5V608h1V640.5zM427 640.5V580h1V640.5zM428 640.5V603h1V640.5zM430 640.5V616h1V640.5zM431 640.5V609h1V640.5zM432 640.5V617h1V640.5zM433 640.5V618h1V640.5zM435 640.5V619h1V640.5zM436 640.5V606h1V640.5zM438 640.5V612h1V640.5zM441 640.5V594h1V640.5zM442 640.5V562h1V640.5zM446 640.5V523h1V640.5zM447 640.5V584h1V640.5zM448 640.5V602h1V640.5zM452 640.5V624h1V640.5zM453 640.5V618h1V640.5zM456 640.5V601h1V640.5zM458 640.5V619h1V640.5zM459 640.5V617h1V640.5zM461 640.5V627h1V640.5zM462 640.5V622h1V640.5zM463 640.5V596h1V640.5zM464 640.5V624h1V640.5zM466 640.5V629h1V640.5zM467 640.5V625h1V640.5zM469 640.5V621h1V640.5zM472 640.5V629h1V640.5zM473 640.5V626h1V640.5zM477 640.5V630h1V640.5zM478 640.5V630h1V640.5zM479 640.5V630h1V640.5zM483 640.5V622h1V640.5zM484 640.5V630h1V640.5zM487 640.5V628h1V640.5zM489 640.5V622h1V640.5zM490 640.5V627h1V640.5zM492 640.5V630h1V640.5zM493 640.5V624h1V640.5zM494 640.5V619h1V640.5zM495 640.5V629h1V640.5zM497 640.5V627h1V640.5zM498 640.5V599h1V640.5zM500 640.5V618h1V640.5zM503 640.5V601h1V640.5zM504 640.5V613h1V640.5zM509 640.5V582h1V640.5zM510 640.5V599h1V640.5zM514 640.5V589h1V640.5zM515 640.5V581h1V640.5zM518 640.5V603h1V640.5zM520 640.5V597h1V640.5zM521 640.5V606h1V640.5zM523 640.5V620h1V640.5zM524 640.5V614h1V640.5zM525 640.5V629h1V640.5zM526 640.5V627h1V640.5zM529 640.5V603h1V640.5zM530 640.5V625h1V640.5zM531 640.5V615h1V640.5zM534 640.5V632h1V640.5zM535 640.5V615h1V640.5zM540 640.5V618h1V640.5zM541 640.5V622h1V640.5zM544 640.5V624h1V640.5zM545 640.5V623h1V640.5zM546 640.5V633h1V640.5zM547 640.5V614h1V640.5zM549 640.5V619h1V640.5zM551 640.5V619h1V640.5zM552 640.5V621h1V640.5zM554 640.5V620h1V640.5zM555 640.5V616h1V640.5zM557 640.5V617h1V640.5zM559 640.5V629h1V640.5zM560 640.5V631h1V640.5zM561 640.5V623h1V640.5zM562 640.5V623h1V640.5zM565 640.5V632h1V640.5zM566 640.5V621h1V640.5zM571 640.5V627h1V640.5zM572 640.5V623h1V640.5zM575 640.5V631h1V640.5zM576 640.5V623h1V640.5zM577 640.5V618h1V640.5zM578 640.5V622h1V640.5zM580 640.5V602h1V640.5zM581 640.5V570h1V640.5zM582 640.5V612h1V640.5zM583 640.5V611h1V640.5zM586 640.5V616h1V640.5zM588 640.5V628h1V640.5zM591 640.5V619h1V640.5zM592 640.5V628h1V640.5zM593 640.5V623h1V640.5zM596 640.5V614h1V640.5zM597 640.5V630h1V640.5zM598 640.5V627h1V640.5zM602 640.5V616h1V640.5zM603 640.5V623h1V640.5zM606 640.5V616h1V640.5zM608 640.5V615h1V640.5zM609 640.5V605h1V640.5zM611 640.5V602h1V640.5zM612 640.5V619h1V640.5zM613 640.5V621h1V640.5zM614 640.5V632h1V640.5zM616 640.5V630h1V640.5zM617 640.5V631h1V640.5zM619 640.5V631h1V640.5zM622 640.5V630h1V640.5zM623 640.5V627h1V640.5zM627 640.5V619h1V640.5zM628 640.5V626h1V640.5zM629 640.5V624h1V640.5zM632 640.5V631h1V640.5zM633 640.5V630h1V640.5zM634 640.5V612h1V640.5zM637 640.5V620h1V640.5zM639 640.5V625h1V640.5zM640 640.5V627h1V640.5zM642 640.5V631h1V640.5zM643 640.5V629h1V640.5zM645 640.5V635h1V640.5zM647 640.5V622h1V640.5zM648 640.5V623h1V640.5zM649 640.5V618h1V640.5zM650 640.5V611h1V640.5zM653 640.5V615h1V640.5zM654 640.5V624h1V640.5zM659 640.5V626h1V640.5zM660 640.5V624h1V640.5zM663 640.5V600h1V640.5zM664 640.5V584h1V640.5zM665 640.5V619h1V640.5zM666 640.5V626h1V640.5zM670 640.5V631h1V640.5zM671 640.5V627h1V640.5zM674 640.5V628h1V640.5zM676 640.5V626h1V640.5zM678 640.5V625h1V640.5zM679 640.5V629h1V640.5zM680 640.5V617h1V640.5zM681 640.5V625h1V640.5zM684 640.5V617h1V640.5zM685 640.5V619h1V640.5zM690 640.5V630h1V640.5zM691 640.5V606h1V640.5zM694 640.5V628h1V640.5zM695 640.5V615h1V640.5zM696 640.5V621h1V640.5zM697 640.5V608h1V640.5zM699 640.5V627h1V640.5zM700 640.5V605h1V640.5zM701 640.5V619h1V640.5zM702 640.5V625h1V640.5zM704 640.5V629h1V640.5zM705 640.5V619h1V640.5zM707 640.5V619h1V640.5zM710 640.5V626h1V640.5zM711 640.5V625h1V640.5zM712 640.5V625h1V640.5zM715 640.5V577h1V640.5zM716 640.5V615h1V640.5zM717 640.5V619h1V640.5zM721 640.5V618h1V640.5zM722 640.5V625h1V640.5zM725 640.5V613h1V640.5zM727 640.5V628h1V640.5zM728 640.5V623h1V640.5zM730 640.5V634h1V640.5zM731 640.5V619h1V640.5zM732 640.5V628h1V640.5zM733 640.5V626h1V640.5zM735 640.5V630h1V640.5zM736 640.5V631h1V640.5zM741 640.5V626h1V640.5zM742 640.5V627h1V640.5zM743 640.5V627h1V640.5zM746 640.5V619h1V640.5zM747 640.5V626h1V640.5zM748 640.5V622h1V640.5zM752 640.5V613h1V640.5zM753 640.5V622h1V640.5zM756 640.5V631h1V640.5zM758 640.5V633h1V640.5zM759 640.5V626h1V640.5zM761 640.5V620h1V640.5zM762 640.5V621h1V640.5zM763 640.5V633h1V640.5zM764 640.5V633h1V640.5zM766 640.5V618h1V640.5zM767 640.5V618h1V640.5zM769 640.5V627h1V640.5zM772 640.5V629h1V640.5zM773 640.5V632h1V640.5zM777 640.5V629h1V640.5zM778 640.5V629h1V640.5zM779 640.5V622h1V640.5zM783 640.5V608h1V640.5zM784 640.5V628h1V640.5zM787 640.5V618h1V640.5zM789 640.5V625h1V640.5zM790 640.5V629h1V640.5zM792 640.5V616h1V640.5zM793 640.5V630h1V640.5zM794 640.5V631h1V640.5zM795 640.5V629h1V640.5zM797 640.5V628h1V640.5zM798 640.5V624h1V640.5zM800 640.5V633h1V640.5zM803 640.5V611h1V640.5zM804 640.5V625h1V640.5zM809 640.5V623h1V640.5zM813 640.5V627h1V640.5zM814 640.5V625h1V640.5zM815 640.5V620h1V640.5zM816 640.5V630h1V640.5zM818 640.5V620h1V640.5zM820 640.5V619h1V640.5zM821 640.5V626h1V640.5zM823 640.5V624h1V640.5zM824 640.5V614h1V640.5zM826 640.5V625h1V640.5zM828 640.5V624h1V640.5zM829 640.5V609h1V640.5zM830 640.5V624h1V640.5zM831 640.5V618h1V640.5zM834 640.5V627h1V640.5zM835 640.5V602h1V640.5zM840 640.5V628h1V640.5zM841 640.5V621h1V640.5zM844 640.5V625h1V640.5zM845 640.5V628h1V640.5zM846 640.5V619h1V640.5zM847 640.5V616h1V640.5zM849 640.5V608h1V640.5zM850 640.5V606h1V640.5zM851 640.5V618h1V640.5zM852 640.5V605h1V640.5zM855 640.5V625h1V640.5zM857 640.5V614h1V640.5zM860 640.5V622h1V640.5zM861 640.5V615h1V640.5zM862 640.5V598h1V640.5zM865 640.5V627h1V640.5zM866 640.5V624h1V640.5zM871 640.5V627h1V640.5zM872 640.5V617h1V640.5zM875 640.5V611h1V640.5zM877 640.5V614h1V640.5zM878 640.5V628h1V640.5zM880 640.5V625h1V640.5zM881 640.5V628h1V640.5zM882 640.5V629h1V640.5zM883 640.5V627h1V640.5zM885 640.5V621h1V640.5zM886 640.5V620h1V640.5zM888 640.5V618h1V640.5zM891 640.5V608h1V640.5zM892 640.5V615h1V640.5zM896 640.5V614h1V640.5zM897 640.5V622h1V640.5zM898 640.5V619h1V640.5zM901 640.5V629h1V640.5zM902 640.5V616h1V640.5zM903 640.5V617h1V640.5zM906 640.5V621h1V640.5zM908 640.5V572h1V640.5zM909 640.5V611h1V640.5zM911 640.5V614h1V640.5zM912 640.5V624h1V640.5zM913 640.5V628h1V640.5zM914 640.5V611h1V640.5zM916 640.5V620h1V640.5zM917 640.5V622h1V640.5zM918 640.5V617h1V640.5zM919 640.5V634h1V640.5zM922 640.5V623h1V640.5zM923 640.5V625h1V640.5zM928 640.5V629h1V640.5zM929 640.5V626h1V640.5zM932 640.5V615h1V640.5zM933 640.5V499h1V640.5zM934 640.5V589h1V640.5zM935 640.5V591h1V640.5zM937 640.5V638h1V640.5zM939 640.5V626h1V640.5zM940 640.5V627h1V640.5zM942 640.5V628h1V640.5zM943 640.5V630h1V640.5zM945 640.5V622h1V640.5zM947 640.5V605h1V640.5zM948 640.5V604h1V640.5zM949 640.5V603h1V640.5zM950 640.5V612h1V640.5zM953 640.5V619h1V640.5zM954 640.5V600h1V640.5zM959 640.5V612h1V640.5zM960 640.5V608h1V640.5zM963 640.5V627h1V640.5zM964 640.5V624h1V640.5zM965 640.5V625h1V640.5zM966 640.5V625h1V640.5zM968 640.5V619h1V640.5zM969 640.5V614h1V640.5zM970 640.5V614h1V640.5zM971 640.5V624h1V640.5zM973 640.5V620h1V640.5zM974 640.5V629h1V640.5zM976 640.5V608h1V640.5zM979 640.5V599h1V640.5zM980 640.5V616h1V640.5zM981 640.5V609h1V640.5zM984 640.5V618h1V640.5zM985 640.5V604h1V640.5zM986 640.5V594h1V640.5zM990 640.5V614h1V640.5zM991 640.5V617h1V640.5zM994 640.5V606h1V640.5zM995 640.5V621h1V640.5zM996 640.5V627h1V640.5zM997 640.5V618h1V640.5zM999 640.5V627h1V640.5zM1000 640.5V630h1V640.5zM1001 640.5V618h1V640.5zM1002 640.5V624h1V640.5zM1004 640.5V624h1V640.5zM1005 640.5V622h1V640.5zM1007 640.5V618h1V640.5zM1010 640.5V626h1V640.5zM1011 640.5V609h1V640.5zM1012 640.5V590h1V640.5zM1015 640.5V610h1V640.5zM1016 640.5V603h1V640.5zM1017 640.5V594h1V640.5zM1021 640.5V607h1V640.5zM1022 640.5V610h1V640.5zM1025 640.5V629h1V640.5zM1027 640.5V615h1V640.5zM1028 640.5V619h1V640.5zM1030 640.5V625h1V640.5zM1031 640.5V619h1V640.5zM1032 640.5V622h1V640.5zM1033 640.5V619h1V640.5zM1035 640.5V621h1V640.5zM1036 640.5V623h1V640.5zM1038 640.5V622h1V640.5zM1041 640.5V631h1V640.5zM1042 640.5V625h1V640.5zM1046 640.5V617h1V640.5zM1047 640.5V620h1V640.5zM1048 640.5V629h1V640.5zM1052 640.5V577h1V640.5zM1053 640.5V622h1V640.5zM1056 640.5V613h1V640.5zM1058 640.5V616h1V640.5zM1059 640.5V621h1V640.5zM1061 640.5V616h1V640.5zM1062 640.5V613h1V640.5zM1063 640.5V620h1V640.5zM1064 640.5V618h1V640.5zM1066 640.5V627h1V640.5zM1067 640.5V624h1V640.5zM1068 640.5V622h1V640.5zM1069 640.5V624h1V640.5zM1072 640.5V619h1V640.5zM1073 640.5V628h1V640.5zM1079 640.5V627h1V640.5zM1082 640.5V627h1V640.5zM1083 640.5V620h1V640.5zM1084 640.5V591h1V640.5zM1087 640.5V619h1V640.5zM1089 640.5V627h1V640.5zM1090 640.5V622h1V640.5zM1092 640.5V626h1V640.5zM1093 640.5V628h1V640.5zM1095 640.5V634h1V640.5zM1097 640.5V626h1V640.5zM1098 640.5V628h1V640.5zM1099 640.5V626h1V640.5zM1100 640.5V616h1V640.5zM1103 640.5V587h1V640.5zM1104 640.5V627h1V640.5zM1109 640.5V620h1V640.5zM1110 640.5V623h1V640.5zM1113 640.5V621h1V640.5zM1114 640.5V617h1V640.5zM1115 640.5V627h1V640.5zM1116 640.5V618h1V640.5zM1118 640.5V608h1V640.5zM1120 640.5V619h1V640.5zM1121 640.5V618h1V640.5z" fill="#bfbfbf"/>
<path d="M134.5 491.5V640.5M268.5 491.5V640.5M404.5 491.5V640.5M537.5 491.5V640.5M673.5 491.5V640.5M808.5 491.5V640.5M944.5 491.5V640.5M1078.5 491.5V640.5M86.5 640.5H1171.5M86.5 593.5H1171.5M86.5 547.5H1171.5M86.5 501.5H1171.5" stroke="#b0b0b0" stroke-width="1.1" fill="none"/>
<path d="M134.5 640.5v5M268.5 640.5v5M404.5 640.5v5M537.5 640.5v5M673.5 640.5v5M808.5 640.5v5M944.5 640.5v5M1078.5 640.5v5M86.5 640.5h-5M86.5 593.5h-5M86.5 547.5h-5M86.5 501.5h-5" stroke="#000" stroke-width="1.1" fill="none"/>
<rect x="86.5" y="491.5" width="1085.0" height="149.0" fill="none" stroke="#000" stroke-width="1.1"/>
<text y="645" font-size="12.9"><tspan x="68.76" textLength="7.69" lengthAdjust="spacingAndGlyphs">0</tspan></text>
<text y="599" font-size="12.9"><tspan x="36.24" textLength="40.25" lengthAdjust="spacingAndGlyphs">50000</tspan></text>
<text y="552" font-size="12.9"><tspan x="26.66" textLength="48.92" lengthAdjust="spacingAndGlyphs">100000</tspan></text>
<text y="506" font-size="12.9"><tspan x="26.66" textLength="48.92" lengthAdjust="spacingAndGlyphs">150000</tspan></text>
<text y="659" font-size="12.9"><tspan x="108.19" textLength="52.94" lengthAdjust="spacingAndGlyphs">2022-01</tspan></text>
<text y="659" font-size="12.9"><tspan x="242.19" textLength="52.53" lengthAdjust="spacingAndGlyphs">2022-07</tspan></text>
<text y="659" font-size="12.9"><tspan x="378.19" textLength="52.94" lengthAdjust="spacingAndGlyphs">2023-01</tspan></text>
<text y="659" font-size="12.9"><tspan x="511.19" textLength="52.53" lengthAdjust="spacingAndGlyphs">2023-07</tspan></text>
<text y="659" font-size="12.9"><tspan x="647.19" textLength="52.94" lengthAdjust="spacingAndGlyphs">2024-01</tspan></text>
<text y="659" font-size="12.9"><tspan x="782.19" textLength="52.53" lengthAdjust="spacingAndGlyphs">2024-07</tspan></text>
<text y="659" font-size="12.9"><tspan x="918.19" textLength="52.94" lengthAdjust="spacingAndGlyphs">2025-01</tspan></text>
<text y="659" font-size="12.9"><tspan x="1052.19" textLength="52.53" lengthAdjust="spacingAndGlyphs">2025-07</tspan></text>
<text y="0" font-size="12.9" transform="translate(18.2 589) rotate(-90)"><tspan x="-0.26" textLength="44.27" lengthAdjust="spacingAndGlyphs">Volume</tspan></text>
</g>
<g id="summary" font-size="15.6">
<text y="697" font-size="15.6"><tspan x="85.79" y="697" textLength="25.16" lengthAdjust="spacingAndGlyphs">HEI</tspan><tspan x="115.25" y="697.9" font-size="16.67" textLength="66.88" lengthAdjust="spacingAndGlyphs">交易次数</tspan><tspan x="182.42" y="697" textLength="4.60" lengthAdjust="spacingAndGlyphs">:</tspan><tspan x="192.20" y="697" textLength="10.32" lengthAdjust="spacingAndGlyphs">4</tspan></text>
<text y="717" font-size="15.6"><tspan x="85.75" y="717.8" font-size="16.67" textLength="100.19" lengthAdjust="spacingAndGlyphs">策略总收益率</tspan><tspan x="185.77" y="717" textLength="4.60" lengthAdjust="spacingAndGlyphs">:</tspan><tspan x="195.23" y="717" textLength="67.38" lengthAdjust="spacingAndGlyphs">122.86%</tspan></text>
<text y="736" font-size="15.6"><tspan x="85.30" y="736.6" font-size="16.67" textLength="99.99" lengthAdjust="spacingAndGlyphs">长期持有收益</tspan><tspan x="185.77" y="736" textLength="4.60" lengthAdjust="spacingAndGlyphs">:</tspan><tspan x="195.21" y="736" textLength="67.24" lengthAdjust="spacingAndGlyphs">112.76%</tspan></text>
<text y="773" font-size="15.6"><tspan x="85.76" y="773.5" font-size="16.67" textLength="65.70" lengthAdjust="spacingAndGlyphs">交易记录</tspan><tspan x="151.87" y="773" textLength="4.60" lengthAdjust="spacingAndGlyphs">:</tspan></text>
<text y="789.6" font-size="15.6"><tspan x="95.71" y="789.6" textLength="65.96" lengthAdjust="spacingAndGlyphs">Buy Date</tspan><tspan x="171.24" y="789.6" textLength="67.51" lengthAdjust="spacingAndGlyphs">Buy Price</tspan><tspan x="248.41" y="789.6" textLength="66.92" lengthAdjust="spacingAndGlyphs">Sell Date</tspan><tspan x="325.02" y="789.6" textLength="68.12" lengthAdjust="spacingAndGlyphs">Sell Price</tspan><tspan x="402.52" y="789.6" textLength="94.99" lengthAdjust="spacingAndGlyphs">Holding Days</tspan><tspan x="507.54" y="789.6" textLength="55.06" lengthAdjust="spacingAndGlyphs">Profit %</tspan></text>
<text y="807" font-size="15.6"><tspan x="85.95" y="807" textLength="90.13" lengthAdjust="spacingAndGlyphs">2022-04-22</tspan><tspan x="200.35" y="807" textLength="55.47" lengthAdjust="spacingAndGlyphs">146.79</tspan><tspan x="260.65" y="807" textLength="90.03" lengthAdjust="spacingAndGlyphs">2024-01-02</tspan><tspan x="379.52" y="807" textLength="56.31" lengthAdjust="spacingAndGlyphs">177.56</tspan><tspan x="489.92" y="807" textLength="30.71" lengthAdjust="spacingAndGlyphs">620</tspan><tspan x="544.93" y="807" textLength="45.18" lengthAdjust="spacingAndGlyphs">20.96</tspan></text>
<text y="825" font-size="15.6"><tspan x="85.95" y="825" textLength="90.13" lengthAdjust="spacingAndGlyphs">2024-01-09</tspan><tspan x="200.36" y="825" textLength="55.05" lengthAdjust="spacingAndGlyphs">170.17</tspan><tspan x="260.65" y="825" textLength="90.03" lengthAdjust="spacingAndGlyphs">2024-06-28</tspan><tspan x="380.13" y="825" textLength="55.49" lengthAdjust="spacingAndGlyphs">223.18</tspan><tspan x="489.42" y="825" textLength="30.81" lengthAdjust="spacingAndGlyphs">170</tspan><tspan x="545.23" y="825" textLength="44.37" lengthAdjust="spacingAndGlyphs">31.15</tspan></text>
<text y="842" font-size="15.6"><tspan x="85.95" y="842" textLength="90.13" lengthAdjust="spacingAndGlyphs">2024-07-19</tspan><tspan x="200.63" y="842" textLength="55.18" lengthAdjust="spacingAndGlyphs">221.41</tspan><tspan x="260.66" y="842" textLength="89.74" lengthAdjust="spacingAndGlyphs">2025-07-10</tspan><tspan x="380.41" y="842" textLength="55.24" lengthAdjust="spacingAndGlyphs">311.64</tspan><tspan x="490.22" y="842" textLength="29.99" lengthAdjust="spacingAndGlyphs">356</tspan><tspan x="545.52" y="842" textLength="44.08" lengthAdjust="spacingAndGlyphs">40.75</tspan></text>
<text y="860" font-size="15.6"><tspan x="85.95" y="860" textLength="90.13" lengthAdjust="spacingAndGlyphs">2025-08-05</tspan><tspan x="200.92" y="860" textLength="54.88" lengthAdjust="spacingAndGlyphs">312.92</tspan><tspan x="260.65" y="860" textLength="90.03" lengthAdjust="spacingAndGlyphs">2025-08-29</tspan><tspan x="380.43" y="860" textLength="54.37" lengthAdjust="spacingAndGlyphs">312.31</tspan><tspan x="494.94" y="860" textLength="19.98" lengthAdjust="spacingAndGlyphs">24</tspan><tspan x="539.14" y="860" textLength="40.77" lengthAdjust="spacingAndGlyphs">-0.19</tspan></text>
</g>
</svg>
</body>
</html>
